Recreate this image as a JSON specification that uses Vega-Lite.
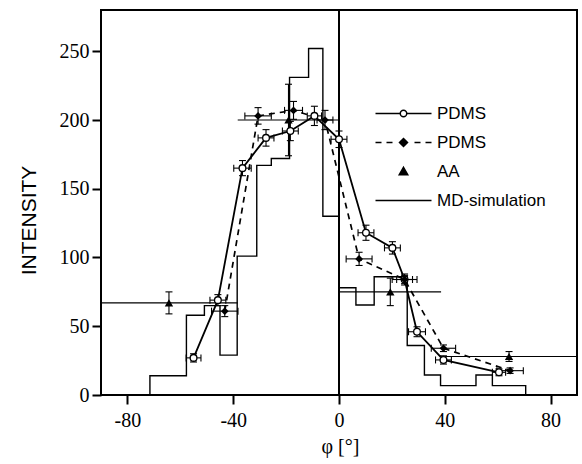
{
  "$schema": "https://vega.github.io/schema/vega-lite/v6.json",
  "width": 476,
  "height": 385,
  "autosize": {"type": "none"},
  "padding": {"left": 101, "top": 10, "right": 5, "bottom": 69},
  "background": "white",
  "config": {
    "view": {"stroke": "black", "strokeWidth": 2},
    "axis": {"grid": false, "domain": false, "tickColor": "black", "tickWidth": 2, "tickSize": 9, "labelFont": "Liberation Serif", "labelFontSize": 20, "labelColor": "black", "titleColor": "black", "titleFontWeight": "normal"},
    "axisX": {"labelPadding": 6, "titleFont": "Liberation Serif", "titleFontSize": 20, "titleX": 239, "titleY": 51, "titleBaseline": "middle", "titleAlign": "center"},
    "axisY": {"labelPadding": 3, "titleFont": "Liberation Sans", "titleFontSize": 21, "titleX": -72, "titleY": 210, "titleAngle": 270, "titleBaseline": "middle", "titleAlign": "center"}
  },
  "datasets": {
    "md": [
      {"i": 0, "x": -71.5, "y": 0}, {"i": 1, "x": -71.5, "y": 14}, {"i": 2, "x": -57.7, "y": 58},
      {"i": 3, "x": -50.9, "y": 65}, {"i": 4, "x": -45, "y": 29}, {"i": 5, "x": -38.5, "y": 101},
      {"i": 6, "x": -31.1, "y": 167}, {"i": 7, "x": -25.6, "y": 172}, {"i": 8, "x": -18.7, "y": 231},
      {"i": 9, "x": -11.5, "y": 252}, {"i": 10, "x": -6.1, "y": 130}, {"i": 11, "x": 0, "y": 78},
      {"i": 12, "x": 6.4, "y": 65.5}, {"i": 13, "x": 13.3, "y": 86}, {"i": 14, "x": 25.8, "y": 36},
      {"i": 15, "x": 32.3, "y": 14.6}, {"i": 16, "x": 38.4, "y": 6.8}, {"i": 17, "x": 51.8, "y": 14.6},
      {"i": 18, "x": 58, "y": 6.8}, {"i": 19, "x": 70.6, "y": 0}
    ],
    "pts": [
      {"s": "PDMS1", "x": -55.0, "y": 27, "xlo": -57.8, "xhi": -52.2, "ylo": 24, "yhi": 30},
      {"s": "PDMS1", "x": -45.8, "y": 69, "xlo": -48.8, "xhi": -42.8, "ylo": 65, "yhi": 73},
      {"s": "PDMS1", "x": -36.5, "y": 165, "xlo": -39.8, "xhi": -33.2, "ylo": 159.5, "yhi": 170.5},
      {"s": "PDMS1", "x": -27.6, "y": 187, "xlo": -30.6, "xhi": -24.6, "ylo": 181, "yhi": 193},
      {"s": "PDMS1", "x": -18.4, "y": 192, "xlo": -21.4, "xhi": -15.4, "ylo": 185, "yhi": 199},
      {"s": "PDMS1", "x": -9.3, "y": 203, "xlo": -12, "xhi": -6.6, "ylo": 196, "yhi": 210},
      {"s": "PDMS1", "x": 0, "y": 186, "xlo": -3, "xhi": 3, "ylo": 180, "yhi": 192},
      {"s": "PDMS1", "x": 10.2, "y": 118, "xlo": 7.2, "xhi": 13.2, "ylo": 112.5, "yhi": 123.5},
      {"s": "PDMS1", "x": 20.2, "y": 107, "xlo": 17.2, "xhi": 23.2, "ylo": 102.5, "yhi": 111.5},
      {"s": "PDMS1", "x": 24.8, "y": 84, "xlo": 21.8, "xhi": 27.8, "ylo": 80, "yhi": 88},
      {"s": "PDMS1", "x": 29.5, "y": 46, "xlo": 26.3, "xhi": 32.7, "ylo": 42.4, "yhi": 49.6},
      {"s": "PDMS1", "x": 39.5, "y": 25.5, "xlo": 36.5, "xhi": 42.5, "ylo": 22.5, "yhi": 28.5},
      {"s": "PDMS1", "x": 60.5, "y": 16.5, "xlo": 58, "xhi": 63, "ylo": 14, "yhi": 19},
      {"s": "PDMS2", "x": -43.2, "y": 61, "xlo": -48.2, "xhi": -38.2, "ylo": 57, "yhi": 65},
      {"s": "PDMS2", "x": -30.6, "y": 203, "xlo": -35.6, "xhi": -25.6, "ylo": 197, "yhi": 209},
      {"s": "PDMS2", "x": -17.2, "y": 207, "xlo": -20.6, "xhi": -13.8, "ylo": 200.5, "yhi": 213.5},
      {"s": "PDMS2", "x": -5.3, "y": 200, "xlo": -8.3, "xhi": -2.3, "ylo": 193, "yhi": 207},
      {"s": "PDMS2", "x": 7.6, "y": 99, "xlo": 2.7, "xhi": 12.5, "ylo": 94.2, "yhi": 103.8},
      {"s": "PDMS2", "x": 24.8, "y": 84, "xlo": 20.1, "xhi": 29.5, "ylo": 81, "yhi": 87},
      {"s": "PDMS2", "x": 39.5, "y": 34, "xlo": 34.9, "xhi": 44.1, "ylo": 31.6, "yhi": 36.4},
      {"s": "PDMS2", "x": 64.7, "y": 17.7, "xlo": 59.7, "xhi": 69.7, "ylo": 15.7, "yhi": 19.7},
      {"s": "AA", "x": -64.3, "y": 67, "xlo": -90.3, "xhi": -38.3, "ylo": 59, "yhi": 75},
      {"s": "AA", "x": -19.1, "y": 200, "xlo": -38.3, "xhi": 0.1, "ylo": 174, "yhi": 226},
      {"s": "AA", "x": 19.4, "y": 75, "xlo": 0.2, "xhi": 38.6, "ylo": 65, "yhi": 85},
      {"s": "AA", "x": 64.3, "y": 28, "xlo": 38.3, "xhi": 90.3, "ylo": 24.4, "yhi": 31.6}
    ]
  },
  "layer": [
    {
      "data": {"name": "md"},
      "mark": {"type": "line", "interpolate": "step-after", "color": "black", "strokeWidth": 1.4, "clip": true},
      "encoding": {
        "x": {"field": "x", "type": "quantitative", "title": "φ [°]", "scale": {"domain": [-90, 90], "nice": false, "zero": false}, "axis": {"values": [-80, -40, 0, 40, 80], "labelExpr": "toString(datum.value)"}},
        "y": {"field": "y", "type": "quantitative", "title": "INTENSITY", "scale": {"domain": [0, 280], "nice": false}, "axis": {"values": [0, 50, 100, 150, 200, 250]}},
        "order": {"field": "i", "type": "quantitative"}
      }
    },
    {
      "data": {"values": [{"x": 0}]},
      "mark": {"type": "rule", "color": "black", "strokeWidth": 2},
      "encoding": {"x": {"field": "x", "type": "quantitative", "title": "φ [°]", "scale": {"domain": [-90, 90], "nice": false, "zero": false}, "axis": {"values": [-80, -40, 0, 40, 80], "labelExpr": "toString(datum.value)"}}}
    },
    {
      "data": {"name": "pts"},
      "mark": {"type": "rule", "color": "black", "strokeWidth": 1.1, "clip": true},
      "encoding": {
        "x": {"field": "xlo", "type": "quantitative", "title": "φ [°]", "scale": {"domain": [-90, 90], "nice": false, "zero": false}, "axis": {"values": [-80, -40, 0, 40, 80], "labelExpr": "toString(datum.value)"}},
        "x2": {"field": "xhi"},
        "y": {"field": "y", "type": "quantitative", "title": "INTENSITY", "scale": {"domain": [0, 280], "nice": false}, "axis": {"values": [0, 50, 100, 150, 200, 250]}}
      }
    },
    {
      "data": {"name": "pts"},
      "mark": {"type": "rule", "color": "black", "strokeWidth": 1.1},
      "encoding": {
        "x": {"field": "x", "type": "quantitative", "title": "φ [°]", "scale": {"domain": [-90, 90], "nice": false, "zero": false}, "axis": {"values": [-80, -40, 0, 40, 80], "labelExpr": "toString(datum.value)"}},
        "y": {"field": "ylo", "type": "quantitative", "title": "INTENSITY", "scale": {"domain": [0, 280], "nice": false}, "axis": {"values": [0, 50, 100, 150, 200, 250]}},
        "y2": {"field": "yhi"}
      }
    },
    {
      "data": {"name": "pts"},
      "mark": {"type": "tick", "orient": "horizontal", "color": "black", "size": 7, "thickness": 1.1, "opacity": 1},
      "encoding": {
        "x": {"field": "x", "type": "quantitative", "title": "φ [°]", "scale": {"domain": [-90, 90], "nice": false, "zero": false}, "axis": {"values": [-80, -40, 0, 40, 80], "labelExpr": "toString(datum.value)"}},
        "y": {"field": "ylo", "type": "quantitative", "title": "INTENSITY", "scale": {"domain": [0, 280], "nice": false}, "axis": {"values": [0, 50, 100, 150, 200, 250]}}
      }
    },
    {
      "data": {"name": "pts"},
      "mark": {"type": "tick", "orient": "horizontal", "color": "black", "size": 7, "thickness": 1.1, "opacity": 1},
      "encoding": {
        "x": {"field": "x", "type": "quantitative", "title": "φ [°]", "scale": {"domain": [-90, 90], "nice": false, "zero": false}, "axis": {"values": [-80, -40, 0, 40, 80], "labelExpr": "toString(datum.value)"}},
        "y": {"field": "yhi", "type": "quantitative", "title": "INTENSITY", "scale": {"domain": [0, 280], "nice": false}, "axis": {"values": [0, 50, 100, 150, 200, 250]}}
      }
    },
    {
      "data": {"name": "pts"},
      "transform": [{"filter": "datum.s != 'AA'"}],
      "mark": {"type": "tick", "orient": "vertical", "color": "black", "size": 7, "thickness": 1.1, "opacity": 1},
      "encoding": {
        "x": {"field": "xlo", "type": "quantitative", "title": "φ [°]", "scale": {"domain": [-90, 90], "nice": false, "zero": false}, "axis": {"values": [-80, -40, 0, 40, 80], "labelExpr": "toString(datum.value)"}},
        "y": {"field": "y", "type": "quantitative", "title": "INTENSITY", "scale": {"domain": [0, 280], "nice": false}, "axis": {"values": [0, 50, 100, 150, 200, 250]}}
      }
    },
    {
      "data": {"name": "pts"},
      "transform": [{"filter": "datum.s != 'AA'"}],
      "mark": {"type": "tick", "orient": "vertical", "color": "black", "size": 7, "thickness": 1.1, "opacity": 1},
      "encoding": {
        "x": {"field": "xhi", "type": "quantitative", "title": "φ [°]", "scale": {"domain": [-90, 90], "nice": false, "zero": false}, "axis": {"values": [-80, -40, 0, 40, 80], "labelExpr": "toString(datum.value)"}},
        "y": {"field": "y", "type": "quantitative", "title": "INTENSITY", "scale": {"domain": [0, 280], "nice": false}, "axis": {"values": [0, 50, 100, 150, 200, 250]}}
      }
    },
    {
      "data": {"name": "pts"},
      "transform": [{"filter": "datum.s == 'PDMS1'"}],
      "mark": {"type": "line", "color": "black", "strokeWidth": 1.8},
      "encoding": {
        "x": {"field": "x", "type": "quantitative", "title": "φ [°]", "scale": {"domain": [-90, 90], "nice": false, "zero": false}, "axis": {"values": [-80, -40, 0, 40, 80], "labelExpr": "toString(datum.value)"}},
        "y": {"field": "y", "type": "quantitative", "title": "INTENSITY", "scale": {"domain": [0, 280], "nice": false}, "axis": {"values": [0, 50, 100, 150, 200, 250]}}
      }
    },
    {
      "data": {"name": "pts"},
      "transform": [{"filter": "datum.s == 'PDMS2'"}],
      "mark": {"type": "line", "color": "black", "strokeWidth": 1.7, "strokeDash": [6, 5]},
      "encoding": {
        "x": {"field": "x", "type": "quantitative", "title": "φ [°]", "scale": {"domain": [-90, 90], "nice": false, "zero": false}, "axis": {"values": [-80, -40, 0, 40, 80], "labelExpr": "toString(datum.value)"}},
        "y": {"field": "y", "type": "quantitative", "title": "INTENSITY", "scale": {"domain": [0, 280], "nice": false}, "axis": {"values": [0, 50, 100, 150, 200, 250]}}
      }
    },
    {
      "data": {"name": "pts"},
      "transform": [{"filter": "datum.s == 'PDMS1'"}],
      "mark": {"type": "point", "shape": "circle", "filled": false, "fill": "white", "stroke": "black", "strokeWidth": 1.3, "size": 45, "opacity": 1},
      "encoding": {
        "x": {"field": "x", "type": "quantitative", "title": "φ [°]", "scale": {"domain": [-90, 90], "nice": false, "zero": false}, "axis": {"values": [-80, -40, 0, 40, 80], "labelExpr": "toString(datum.value)"}},
        "y": {"field": "y", "type": "quantitative", "title": "INTENSITY", "scale": {"domain": [0, 280], "nice": false}, "axis": {"values": [0, 50, 100, 150, 200, 250]}}
      }
    },
    {
      "data": {"name": "pts"},
      "transform": [{"filter": "datum.s == 'PDMS2'"}],
      "mark": {"type": "point", "shape": "diamond", "filled": true, "color": "black", "size": 60, "opacity": 1},
      "encoding": {
        "x": {"field": "x", "type": "quantitative", "title": "φ [°]", "scale": {"domain": [-90, 90], "nice": false, "zero": false}, "axis": {"values": [-80, -40, 0, 40, 80], "labelExpr": "toString(datum.value)"}},
        "y": {"field": "y", "type": "quantitative", "title": "INTENSITY", "scale": {"domain": [0, 280], "nice": false}, "axis": {"values": [0, 50, 100, 150, 200, 250]}}
      }
    },
    {
      "data": {"name": "pts"},
      "transform": [{"filter": "datum.s == 'AA'"}],
      "mark": {"type": "point", "shape": "triangle-up", "filled": true, "color": "black", "size": 70, "opacity": 1},
      "encoding": {
        "x": {"field": "x", "type": "quantitative", "title": "φ [°]", "scale": {"domain": [-90, 90], "nice": false, "zero": false}, "axis": {"values": [-80, -40, 0, 40, 80], "labelExpr": "toString(datum.value)"}},
        "y": {"field": "y", "type": "quantitative", "title": "INTENSITY", "scale": {"domain": [0, 280], "nice": false}, "axis": {"values": [0, 50, 100, 150, 200, 250]}}
      }
    },
    {
      "data": {"values": [{"s": "PDMS"}, {"s": "PDMS "}, {"s": "AA"}, {"s": "MD-simulation"}]},
      "transform": [{"filter": "false"}],
      "mark": {"type": "point", "filled": true, "size": 100, "opacity": 1, "strokeWidth": 1.5},
      "encoding": {
        "shape": {"field": "s", "type": "nominal",
          "scale": {"domain": ["PDMS", "PDMS ", "AA", "MD-simulation"],
            "range": ["M-5.6,0L-0.65,0M0.65,0L5.6,0M-0.65,0A0.65,0.65,0,1,0,0.65,0A0.65,0.65,0,1,0,-0.65,0Z",
                      "M-5.6,0L-4.4,0M-3.4,0L-2.2,0M2.2,0L3.4,0M4.4,0L5.6,0M0,-0.8L0.8,0L0,0.8L-0.8,0Z",
                      "M0,-0.85L0.85,0.65L-0.85,0.65Z",
                      "M-5.6,0L5.6,0"]},
          "legend": {"orient": "none", "legendX": 294, "legendY": 95, "title": null, "padding": 0, "labelFont": "Liberation Sans", "labelFontSize": 17, "labelColor": "black", "labelOffset": 25, "rowPadding": 11, "symbolSize": 100, "symbolStrokeWidth": 1.5,
            "encode": {"symbols": {"update": {"stroke": {"value": "black"}, "strokeWidth": {"value": 1.5}, "opacity": {"value": 1}}}}}},
        "fill": {"field": "s", "type": "nominal",
          "scale": {"domain": ["PDMS", "PDMS ", "AA", "MD-simulation"], "range": ["white", "black", "black", "transparent"]},
          "legend": {"orient": "none", "legendX": 294, "legendY": 95, "title": null, "padding": 0, "labelFont": "Liberation Sans", "labelFontSize": 17, "labelColor": "black", "labelOffset": 25, "rowPadding": 11, "symbolSize": 100, "symbolStrokeWidth": 1.5,
            "encode": {"symbols": {"update": {"stroke": {"value": "black"}, "strokeWidth": {"value": 1.5}, "opacity": {"value": 1}}}}}},
        "stroke": {"field": "s", "type": "nominal",
          "scale": {"domain": ["PDMS", "PDMS ", "AA", "MD-simulation"], "range": ["black", "black", "black", "black"]},
          "legend": {"orient": "none", "legendX": 294, "legendY": 95, "title": null, "padding": 0, "labelFont": "Liberation Sans", "labelFontSize": 17, "labelColor": "black", "labelOffset": 25, "rowPadding": 11, "symbolSize": 100, "symbolStrokeWidth": 1.5,
            "encode": {"symbols": {"update": {"stroke": {"value": "black"}, "strokeWidth": {"value": 1.5}, "opacity": {"value": 1}}}}}}
      }
    }
  ]
}
